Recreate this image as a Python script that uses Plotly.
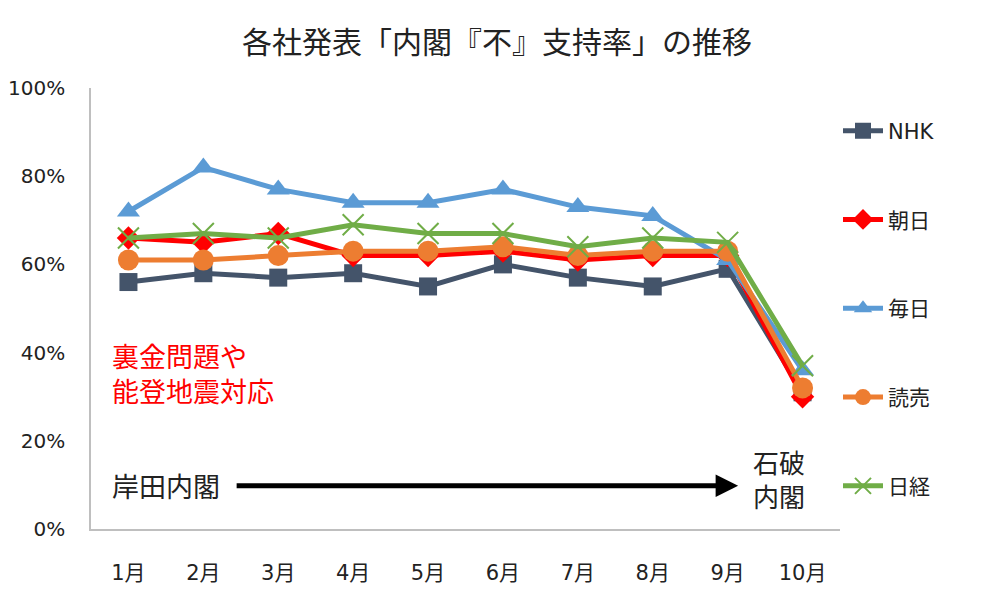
import plotly.graph_objects as go

months = ["1月", "2月", "3月", "4月", "5月", "6月", "7月", "8月", "9月", "10月"]
nhk = [56, 58, 57, 58, 55, 60, 57, 55, 59, 31]
asahi = [66, 65, 67, 62, 62, 63, 61, 62, 62, 30]
mainichi = [72, 82, 77, 74, 74, 77, 73, 71, 61, 36]
yomiuri = [61, 61, 62, 63, 63, 64, 62, 63, 63, 32]
nikkei = [66, 67, 66, 69, 67, 67, 64, 66, 65, 37]
y_ticks = [0, 20, 40, 60, 80, 100]
y_tick_labels = ["0%", "20%", "40%", "60%", "80%", "100%"]

FONT = "DejaVu Sans, Noto Sans CJK JP, sans-serif"

series = [
    ("NHK", nhk, "#44546A", dict(symbol="square", size=18)),
    ("朝日", asahi, "#FF0000", dict(symbol="diamond", size=18)),
    ("毎日", mainichi, "#5B9BD5", dict(symbol="triangle-up", size=20)),
    ("読売", yomiuri, "#ED7D31", dict(symbol="circle", size=21)),
    ("日経", nikkei, "#70AD47", dict(symbol="x-thin-open", size=21, line=dict(width=2, color="#70AD47"))),
]

fig = go.Figure()
for name, vals, color, mk in series:
    m = dict(color=color, **mk)
    fig.add_trace(go.Scatter(
        x=months, y=vals, name=name, mode="lines+markers",
        line=dict(color=color, width=5), marker=m, legendgroup=name,
    ))

fig.update_layout(
    width=1000, height=601,
    margin=dict(l=83, r=168, t=80, b=80, autoexpand=False),
    paper_bgcolor="white", plot_bgcolor="white",
    font=dict(family=FONT, size=20, color="#222222"),
    title=dict(text="各社発表「内閣『不』支持率」の推移", x=0.489, xanchor="center",
               y=0.943, yanchor="middle", font=dict(size=30, color="#222222")),
    showlegend=True,
    legend=dict(xref="container", x=0.830, xanchor="left", y=0.949, yanchor="top",
                traceorder="grouped", tracegroupgap=58.5,
                font=dict(size=21, color="#222222"), itemwidth=40),
    xaxis=dict(type="category", range=[-0.5, 9.5], showgrid=False, showline=True,
               linecolor="#BFBFBF", linewidth=1.5, ticks="", ticklabelstandoff=24,
               tickfont=dict(size=21), automargin=False),
    yaxis=dict(range=[0, 100], tickvals=y_ticks, ticktext=y_tick_labels,
               showgrid=False, showline=True, linecolor="#BFBFBF", linewidth=1.5,
               ticks="", ticklabelstandoff=20, zeroline=False, tickfont=dict(size=20),
               automargin=False),
)

fig.add_annotation(text="裏金問題や<br>能登地震対応", xref="paper", yref="y",
                   x=0.026, y=35.0, xanchor="left", yanchor="middle", showarrow=False,
                   align="left", font=dict(size=27, color="#FF0000"))
fig.add_annotation(text="岸田内閣", xref="paper", yref="y", x=0.026, y=9.4,
                   xanchor="left", yanchor="middle", showarrow=False,
                   font=dict(size=27, color="#222222"))
fig.add_annotation(text="石破<br>内閣", xref="paper", yref="y", x=0.918, y=10.8,
                   xanchor="center", yanchor="middle", showarrow=False,
                   font=dict(size=26, color="#222222"))
fig.add_annotation(text="", xref="paper", yref="y", x=0.864, y=9.8,
                   ax=-503, ay=0, showarrow=True, arrowhead=2, arrowsize=0.9,
                   arrowwidth=5, arrowcolor="#000000")

fig.write_html("out.html")
